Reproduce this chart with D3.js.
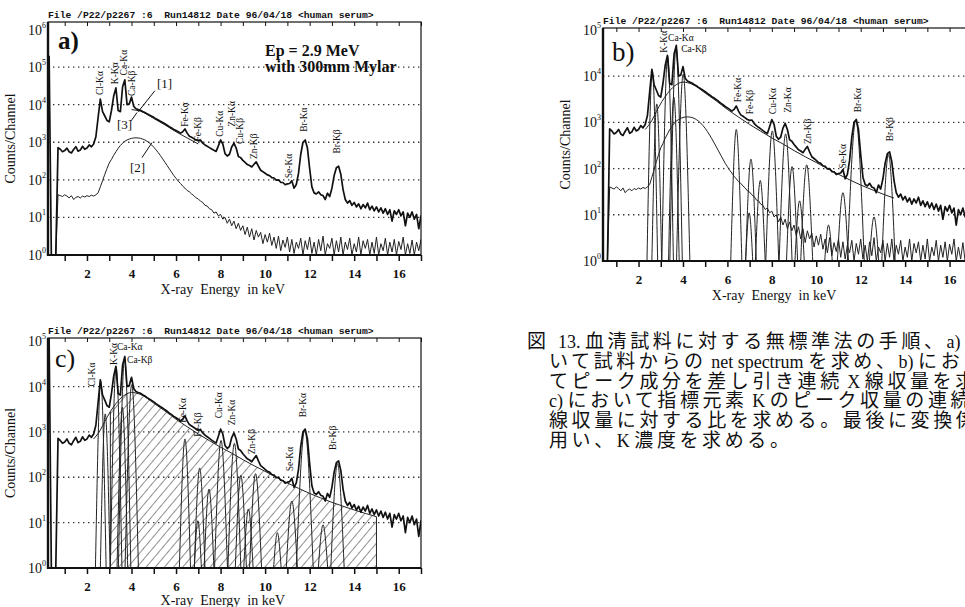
<!DOCTYPE html>
<html>
<head>
<meta charset="utf-8">
<script src="https://cdn.jsdelivr.net/npm/d3@7"></script>
<style>
body { margin: 0; background: #fff; }
svg { display: block; }
text { fill: #111; }
</style>
</head>
<body>
<svg id="fig" width="965" height="607"></svg>
<script>
// channel grid of the spectra (keV)
var dE = 0.1;
var specStart = 0.3;
// net spectrum [1], counts per channel, 0.3 .. 17.2 keV
var spectrum = [
  200000,1,1,1,720,650,560,600,700,560,
  520,640,760,580,620,780,650,700,850,760,
  900,1400,4500,14000,6500,5000,3800,3500,7000,17000,
  28000,7000,6500,30000,46000,10000,10500,16000,9000,7800,
  7400,7100,6600,6200,5700,5300,4950,4600,4200,3900,
  3600,3350,3100,2850,2600,2400,2200,2050,1900,1750,
  1900,2250,1750,1450,1350,1250,1150,1100,1120,950,
  850,780,720,660,610,570,800,1150,900,500,
  430,480,750,950,700,420,390,330,290,255,
  240,220,260,300,230,180,165,150,135,130,
  115,112,98,100,86,85,74,78,80,95,
  60,75,150,480,1000,1150,700,200,65,45,
  42,48,40,38,30,44,36,60,130,210,
  230,140,55,30,24,28,21,25,19,23,
  17,22,18,24,16,20,15,19,14,18,
  13,17,12,16,8,15,12,16,11,14,
  6,13,10,14,9,12,5,11,9,10
];
// background spectrum [2], 0.6 .. 17.2 keV
var bgStart = 0.6;
var background = [
  1,40,38,36,40,37,33,38,30,34,
  36,33,37,35,38,36,39,37,40,45,
  65,95,140,200,280,350,450,560,690,820,
  950,1060,1150,1220,1270,1300,1310,1300,1270,1220,
  1150,1060,960,850,740,630,530,440,360,295,
  240,195,160,130,110,92,80,68,60,52,
  48,42,38,33,31,27,25,21,20,17,
  16,13,14,11,12,9,10,7,9,6,
  8,5,7,4.5,6,3.5,5.5,3,5,2.5,
  4.5,3,4,2,3.5,2.2,3.8,1.8,3,1.5,
  3.2,1.3,2.5,1.6,3,1.2,2.6,1.1,2.2,1.5,
  2.8,1,2.4,1.4,3,1.1,2.2,1,2.6,1.3,
  3.2,1,2,1.5,2.8,1,2.4,1.2,3,1,
  2.2,1.4,2.8,1,2,1.2,3,1,2.4,1.5,
  2.6,1,2.2,1.1,3,1,2,1.3,2.8,1,
  2.2,1.2,2.6,1,2.3,1.4,3,1,2,1.1,
  2.5,1,2.2,1.3,2.6,1,2
];
// continuum [3]
var contE = [2.3,2.6,2.8,3.05,3.3,3.6,4.0,4.4,5.0,5.5,6.0,6.5,7.0,7.5,8.0,8.5,9.0,9.5,10.0,10.5,11.0,11.5,12.0,12.5,13.0,13.5,14.0,14.5,15.0];
var contC = [700,1100,1700,2800,4200,6000,7400,6700,4300,2900,1900,1300,900,640,460,340,245,180,135,100,75,57,44,35,28,23,19,16,13.5];
// fitted peak components: centre (keV), height (counts), half width at 1 count (keV)
var peakE = [2.62,2.82,3.31,3.59,3.69,4.01,6.40,6.98,7.06,7.48,8.02,8.62,8.91,9.25,9.57,10.55,11.20,11.78,12.60,13.25];
var peakH = [13000,2500,27000,3500,42000,11000,700,11,160,55,650,560,110,20,120,6,30,1100,9,200];
var peakW = [0.24,0.22,0.26,0.24,0.28,0.30,0.25,0.16,0.24,0.22,0.29,0.29,0.25,0.21,0.27,0.17,0.25,0.38,0.21,0.30];
// peak labels: text, energy, count level of label foot
var labelsA = [["Cl-Kα",2.58,18000],["K-Kα",3.25,35000],["Ca-Kα",3.65,60000],["Ca-Kβ",4.02,17000],
  ["Fe-Kα",6.4,2600],["Fe-Kβ",6.95,1050],["Cu-Kα",7.95,1400],["Zn-Kα",8.5,2600],["Cu-Kβ",8.85,900],
  ["Zn-Kβ",9.5,360],["Se-Kα",11.07,110],["Br-Kα",11.72,1900],["Br-Kβ",13.2,500]];
var labelsB = [["K-Kα",3.15,32000],["Fe-Kα",6.46,2700],["Fe-Kβ",7.0,1500],["Cu-Kα",8.05,1500],["Zn-Kα",8.7,1600],
  ["Zn-Kβ",9.6,340],["Se-Kα",11.2,100],["Br-Kα",11.85,1650],["Br-Kβ",13.3,390]];
var flatB = [["Ca-Kα",3.33,58000],["Ca-Kβ",3.92,33000]];
var labelsC = [["Cl-Kα",2.2,10000],["K-Kα",3.2,30000],["Fe-Kα",6.3,1600],["Fe-Kβ",6.95,780],["Cu-Kα",7.9,2000],
  ["Zn-Kα",8.5,1400],["Zn-Kβ",9.4,320],["Se-Kα",11.1,135],["Br-Kα",11.7,2100],["Br-Kβ",13.05,400]];
var flatC = [["Ca-Kα",3.35,63000],["Ca-Kβ",3.8,33000]];
var xTicks = d3.range(1, 18);
var header = "File /P22/p2267 :6  Run14812 Date 96/04/18 <human serum>";
var caption = [
  "図",
  "13. 血清試料に対する無標準法の手順、a) にお",
  "いて試料からの net spectrum を求め、b) におい",
  "てピーク成分を差し引き連続 X 線収量を求め、",
  "c) において指標元素 K のピーク収量の連続 X",
  "線収量に対する比を求める。最後に変換係数を",
  "用い、K 濃度を求める。"
];

var SERIF = "'Liberation Serif', 'Times New Roman', serif";

var svg = d3.select('#fig');
var defs = svg.append('defs');
defs.append('pattern').attr('id', 'hatch').attr('patternUnits', 'userSpaceOnUse')
    .attr('width', 7).attr('height', 7).attr('patternTransform', 'rotate(40)')
  .append('line').attr('x1', 0).attr('y1', 0).attr('x2', 0).attr('y2', 7)
    .attr('stroke', '#222').attr('stroke-width', 1);

function toPoints(start, values) {
  return values.map(function(v, i) { return {e: start + i * dE, c: v}; });
}
var specPts = toPoints(specStart, spectrum);
var bgPts = toPoints(bgStart, background);
var contPts = contE.map(function(e, i) { return {e: e, c: contC[i]}; });

function drawPanel(p) {
  var g = svg.append('g');
  var x = d3.scaleLinear().domain(p.xDom).range([p.l, p.r]);
  var y = d3.scaleLog().domain([1, p.yTop]).range([p.b, p.t]).clamp(true);

  defs.append('clipPath').attr('id', 'clip-' + p.name)
    .append('rect').attr('x', p.l).attr('y', p.t).attr('width', p.r - p.l).attr('height', p.b - p.t);

  // header line
  g.append('text').attr('x', p.l).attr('y', p.t - 4)
    .attr('font-family', "'Liberation Mono', 'DejaVu Sans Mono', monospace")
    .attr('font-weight', 'bold').attr('font-size', 9.7).style('white-space', 'pre')
    .text(header);

  // dotted decades
  g.selectAll('.grid').data(p.grid).enter().append('line')
    .attr('x1', p.l).attr('x2', p.r).attr('y1', function(d) { return y(d); }).attr('y2', function(d) { return y(d); })
    .attr('stroke', '#333').attr('stroke-width', 1.3).attr('stroke-dasharray', '1.4,3.6');

  var plot = g.append('g').attr('clip-path', 'url(#clip-' + p.name + ')');
  var line = d3.line().x(function(d) { return x(d.e); }).y(function(d) { return y(d.c); });

  if (p.hatch) {
    var hp = contPts.filter(function(d) { return d.e >= p.hatch[0] && d.e <= p.hatch[1]; });
    plot.append('path').datum(hp)
      .attr('d', d3.area().x(function(d) { return x(d.e); }).y0(y(1)).y1(function(d) { return y(d.c); }).curve(d3.curveMonotoneX))
      .attr('fill', 'url(#hatch)').attr('stroke', 'none');
    [hp[0], hp[hp.length - 1]].forEach(function(d) {
      plot.append('line').attr('x1', x(d.e)).attr('x2', x(d.e)).attr('y1', y(1)).attr('y2', y(d.c))
        .attr('stroke', '#222').attr('stroke-width', 1);
    });
  }

  if (p.components) {
    var comp = d3.line().x(function(d) { return x(d.e); }).y(function(d) { return y(d.c); }).curve(d3.curveNatural);
    plot.selectAll('.comp').data(peakE).enter().append('path')
      .attr('d', function(e, i) {
        return comp([{e: e - peakW[i], c: 1}, {e: e, c: peakH[i]}, {e: e + peakW[i], c: 1}]);
      })
      .attr('fill', 'none').attr('stroke', '#222').attr('stroke-width', 1);
  }

  if (p.background) {
    plot.append('path').datum(bgPts).attr('d', line)
      .attr('fill', 'none').attr('stroke', '#222').attr('stroke-width', 1);
  }

  if (p.cont) {
    var cp = contPts.filter(function(d) { return d.e >= p.cont[0] && d.e <= p.cont[1]; });
    plot.append('path').datum(cp)
      .attr('d', d3.line().x(function(d) { return x(d.e); }).y(function(d) { return y(d.c); }).curve(d3.curveMonotoneX))
      .attr('fill', 'none').attr('stroke', '#222').attr('stroke-width', 1);
  }

  plot.append('path').datum(specPts).attr('d', line)
    .attr('fill', 'none').attr('stroke', '#111').attr('stroke-width', 1.7).attr('stroke-linejoin', 'round');

  // frame
  g.append('rect').attr('x', p.l).attr('y', p.t).attr('width', p.r - p.l).attr('height', p.b - p.t)
    .attr('fill', 'none').attr('stroke', '#111').attr('stroke-width', 1.2);
  g.append('line').attr('x1', p.l).attr('x2', p.l).attr('y1', p.t).attr('y2', p.b + 1)
    .attr('stroke', '#111').attr('stroke-width', 2.4);
  g.append('line').attr('x1', p.l).attr('x2', p.r).attr('y1', p.b).attr('y2', p.b)
    .attr('stroke', '#111').attr('stroke-width', 1.8);

  // x axis
  var ax = g.append('g').attr('transform', 'translate(0,' + p.b + ')')
    .call(d3.axisBottom(x).tickValues(xTicks).tickSize(6).tickPadding(8)
      .tickFormat(function(d) { return d % 2 === 0 ? d : ''; }));
  ax.select('.domain').remove();
  ax.selectAll('line').attr('stroke', '#111').attr('stroke-width', 1.5);
  ax.selectAll('text').attr('font-family', SERIF).attr('font-size', 13).attr('font-weight', 'bold').attr('fill', '#111');
  var at = g.append('g').attr('transform', 'translate(0,' + p.t + ')')
    .call(d3.axisTop(x).tickValues(xTicks).tickSize(-4).tickFormat(''));
  at.select('.domain').remove();
  at.selectAll('line').attr('stroke', '#111').attr('stroke-width', 1);

  g.append('text').attr('x', x(8.1)).attr('y', Math.min(p.b + 39, 605)).attr('text-anchor', 'middle')
    .attr('font-family', SERIF).attr('font-size', 14).style('white-space', 'pre')
    .text('X-ray  Energy  in keV');

  // y labels 10^n
  g.selectAll('.ylab').data(p.yTicks).enter().append('text')
    .attr('x', p.l - 2).attr('y', function(d) { return y(d) + 5; }).attr('text-anchor', 'end')
    .attr('font-family', SERIF).attr('font-size', 14)
    .each(function(d) {
      var t = d3.select(this);
      t.append('tspan').text('10');
      t.append('tspan').attr('dy', -7).attr('font-size', 8).text(Math.round(Math.log10(d)));
    });
  g.append('text').attr('transform', 'translate(' + (p.l - 33) + ',' + ((p.t + p.b) / 2) + ') rotate(-90)')
    .attr('text-anchor', 'middle').attr('font-family', SERIF).attr('font-size', 14)
    .text('Counts/Channel');

  // peak labels
  g.selectAll('.plab').data(p.labels).enter().append('text')
    .attr('transform', function(d) { return 'translate(' + x(d[1]) + ',' + y(d[2]) + ') rotate(-90)'; })
    .attr('dy', '0.35em').attr('font-family', SERIF).attr('font-size', 9.5)
    .text(function(d) { return d[0]; });
  g.selectAll('.flab').data(p.flat || []).enter().append('text')
    .attr('x', function(d) { return x(d[1]); }).attr('y', function(d) { return y(d[2]); })
    .attr('font-family', SERIF).attr('font-size', 9.5)
    .text(function(d) { return d[0]; });

  g.append('text').attr('x', p.l + p.tag[1]).attr('y', p.t + p.tag[2])
    .attr('font-family', SERIF).attr('font-size', p.tag[3]).attr('font-weight', p.tag[4])
    .text(p.tag[0]);

  return {g: g, x: x, y: y};
}

var pa = drawPanel({name: 'a', l: 48, r: 421, t: 22, b: 255, xDom: [0.25, 17.0], yTop: Math.pow(10, 6.2),
  grid: [10, 100, 1000, 10000, 100000], yTicks: [1, 10, 100, 1000, 10000, 100000, 1000000],
  background: true, cont: [4.0, 7.0], labels: labelsA, tag: ['a)', 10, 27, 25, 'bold']});
var pb = drawPanel({name: 'b', l: 603, r: 974, t: 28, b: 261, xDom: [0.4, 17.1], yTop: Math.pow(10, 5.04),
  grid: [10, 100, 1000, 10000], yTicks: [1, 10, 100, 1000, 10000, 100000],
  background: true, components: true, cont: [2.3, 13.5], labels: labelsB, flat: flatB, tag: ['b)', 9, 33, 27, 'normal']});
var pc = drawPanel({name: 'c', l: 48, r: 421, t: 338, b: 568, xDom: [0.25, 17.0], yTop: Math.pow(10, 5.07),
  grid: [10, 100, 1000, 10000], yTicks: [1, 10, 100, 1000, 10000, 100000],
  components: true, hatch: [3.05, 15.0], cont: [2.3, 15.0], labels: labelsC, flat: flatC, tag: ['c)', 7, 29, 26, 'normal']});

// panel a annotations
pa.g.append('text').attr('x', 265).attr('y', 56).attr('font-family', SERIF).attr('font-size', 16).attr('font-weight', 'bold')
  .text('Ep = 2.9 MeV');
pa.g.append('text').attr('x', 265).attr('y', 72).attr('font-family', SERIF).attr('font-size', 16).attr('font-weight', 'bold')
  .text('with 300mm Mylar');
[['[1]', 5.14, 27000, 5.05, 23500, 4.3, 6500],
 ['[3]', 3.35, 2300, 3.98, 3700, 4.25, 6200],
 ['[2]', 3.93, 163, 4.47, 390, 4.92, 980]].forEach(function(a) {
  pa.g.append('text').attr('x', pa.x(a[1])).attr('y', pa.y(a[2])).attr('font-family', SERIF).attr('font-size', 13).text(a[0]);
  pa.g.append('line').attr('x1', pa.x(a[3])).attr('y1', pa.y(a[4])).attr('x2', pa.x(a[5])).attr('y2', pa.y(a[6]))
    .attr('stroke', '#111').attr('stroke-width', 1);
});

// caption: justified Japanese text, CJK runs spaced out, latin runs set tight
var CJK = /[\u3000-\u9fff\uff00-\uffef]+|[^\u3000-\u9fff\uff00-\uffef]+/g;
function setLine(sel, str) {
  (str.match(CJK) || []).forEach(function(run) {
    var isCjk = /[\u3000-\u9fff\uff00-\uffef]/.test(run);
    sel.append('tspan')
      .attr('font-size', isCjk ? 19 : 18)
      .attr('letter-spacing', isCjk ? 3.6 : 0)
      .text(run);
  });
}
var cap = svg.append('g').attr('font-family', "'Liberation Serif', 'Noto Sans CJK JP', serif");
setLine(cap.append('text').attr('x', 527).attr('y', 348), caption[0]);
caption.slice(1).forEach(function(str, i) {
  var t = cap.append('text').attr('x', i === 0 ? 558 : 549).attr('y', 348 + i * 19.8).style('white-space', 'pre');
  setLine(t, str);
});
</script>
</body>
</html>
